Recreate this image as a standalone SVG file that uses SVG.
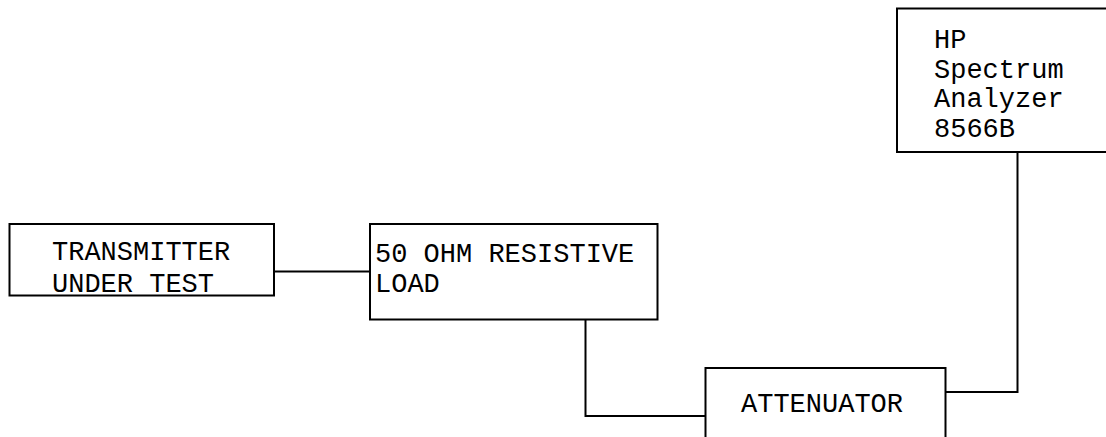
<svg xmlns="http://www.w3.org/2000/svg" width="1106" height="437" viewBox="0 0 1106 437">
<style>
.box{fill:#fff;stroke:#000;stroke-width:2}
.wire{fill:none;stroke:#000;stroke-width:2}
text{font-family:"Liberation Mono","Courier New",monospace;font-size:27px;fill:#000}
</style>
<rect width="1106" height="437" fill="#fff"/>
<g id="connectors">
<path class="wire" d="M274 271.5H370"/>
<path class="wire" d="M585.5 320V416H706"/>
<path class="wire" d="M945 392H1017.5V152"/>
</g>
<g id="transmitter">
<rect class="box" x="9.5" y="224" width="264.5" height="71.5"/>
<text x="52" y="260">TRANSMITTER</text>
<text x="52" y="292">UNDER TEST</text>
</g>
<g id="load">
<rect class="box" x="370" y="224" width="287.5" height="95.5"/>
<text x="375" y="262">50 OHM RESISTIVE</text>
<text x="375" y="292">LOAD</text>
</g>
<g id="attenuator">
<rect class="box" x="705.5" y="368" width="240" height="80"/>
<text x="741" y="412">ATTENUATOR</text>
</g>
<g id="analyzer">
<rect class="box" x="897" y="8.5" width="220" height="143.5"/>
<text x="934" y="48">HP</text>
<text x="934" y="78">Spectrum</text>
<text x="934" y="107">Analyzer</text>
<text x="934" y="137">8566B</text>
</g>
</svg>
